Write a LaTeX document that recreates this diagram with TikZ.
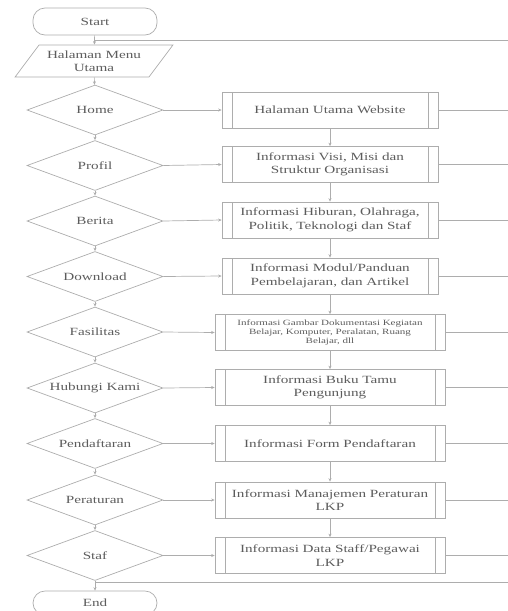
\documentclass[tikz,border=0pt]{standalone}
\usepackage{fontspec}
\setmainfont{Liberation Serif}[FakeStretch=1.38]
\usetikzlibrary{shapes.geometric,arrows.meta}
\definecolor{ln}{gray}{0.68}
\definecolor{tx}{gray}{0.36}
\tikzset{
  base/.style={draw=ln, line width=0.7pt, text=tx, font=\fontsize{11}{13.5}\selectfont, align=center, inner sep=1pt},
  term/.style={base, rectangle, rounded corners=12pt, minimum width=124pt, minimum height=27pt},
  iobox/.style={base, trapezium, trapezium left angle=48, trapezium right angle=132, trapezium stretches=true, minimum width=158pt, minimum height=32pt},
  dec/.style={base, diamond, aspect=2.72, inner sep=0pt, minimum width=136pt, minimum height=50pt},
  procbox/.style={base, rectangle, minimum width=#1, minimum height=36pt, text width=#1-24pt,
    path picture={\draw[ln, line width=0.6pt] ([xshift=10pt]path picture bounding box.north west) -- ([xshift=10pt]path picture bounding box.south west);
                  \draw[ln, line width=0.6pt] ([xshift=-10pt]path picture bounding box.north east) -- ([xshift=-10pt]path picture bounding box.south east);}},
  pa/.style={procbox=216pt},
  pb/.style={procbox=230pt},
  conn/.style={draw=ln, line width=0.7pt, -{Stealth[length=3.5pt,width=3pt]}},
  plain/.style={draw=ln, line width=0.7pt}
}
\begin{document}
\begin{tikzpicture}[x=1pt,y=-1pt]
\useasboundingbox (0,0) rectangle (508,611);
\node[term] (start) at (95,21.5) {Start};
\node[iobox] (menu) at (94,61) {Halaman Menu\\Utama};
\node[dec] (d1) at (95,110) {Home};
\node[dec] (d2) at (95,165.5) {Profil};
\node[dec] (d3) at (95,221) {Berita};
\node[dec] (d4) at (95,276.5) {Download};
\node[dec] (d5) at (95,332) {Fasilitas};
\node[dec] (d6) at (95,388) {Hubungi Kami};
\node[dec] (d7) at (95,443.5) {Pendaftaran};
\node[dec] (d8) at (95,500) {Peraturan};
\node[dec] (d9) at (95,555.5) {Staf};
\node[term, minimum height=24pt] (end) at (95,603) {End};

\node[pa] (p1) at (330,110) {Halaman Utama Website};
\node[pa] (p2) at (330,164.5) {Informasi Visi, Misi dan\\Struktur Organisasi};
\node[pa] (p3) at (330,220) {Informasi Hiburan, Olahraga,\\Politik, Teknologi dan Staf};
\node[pa] (p4) at (330,276) {Informasi Modul/Panduan\\Pembelajaran, dan Artikel};
\node[pb, font=\fontsize{8}{8.8}\selectfont, text width=210pt] (p5) at (330,332.5) {Informasi Gambar Dokumentasi Kegiatan\\Belajar, Komputer, Peralatan, Ruang\\Belajar, dll};
\node[pb] (p6) at (330,387.5) {Informasi Buku Tamu\\Pengunjung};
\node[pb] (p7) at (330,443.5) {Informasi Form Pendaftaran};
\node[pb] (p8) at (330,500) {Informasi Manajemen Peraturan\\LKP};
\node[pb] (p9) at (330,555.5) {Informasi Data Staff/Pegawai\\LKP};

\coordinate (jt) at (95,40);
\coordinate (rt) at (508,40);
\coordinate (jb) at (95,582);
\coordinate (rb) at (508,582);

\draw[conn] (start) -- (menu);
\draw[plain] (rt) -- (jt);
\draw[conn] (menu) -- (d1);
\foreach \a/\b in {d1/d2,d2/d3,d3/d4,d4/d5,d5/d6,d6/d7,d7/d8,d8/d9}
  \draw[conn] (\a) -- (\b);
\draw[conn] (d9) -- (end);
\draw[plain] (rb) -- (jb);

\foreach \i in {1,...,9}
  \draw[conn] (d\i.east) -- (p\i.west);
\foreach \a/\b in {p1/p2,p2/p3,p3/p4,p4/p5,p5/p6,p6/p7,p7/p8,p8/p9}
  \draw[conn] (\a) -- (\b);
\foreach \i in {1,...,9}
  \draw[plain] (p\i.east) -- (508,0 |- p\i.east);
\end{tikzpicture}
\end{document}
